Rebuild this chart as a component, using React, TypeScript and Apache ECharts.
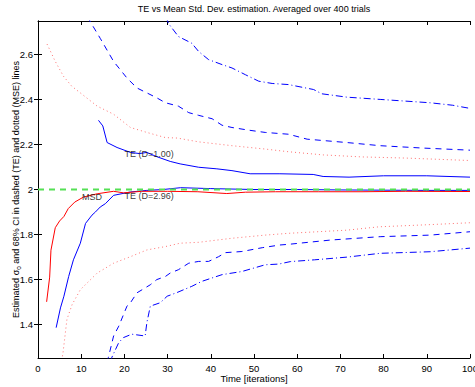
import React, { useEffect, useRef } from "react";
import * as echarts from "echarts";

const titleText = "TE vs Mean Std. Dev. estimation. Averaged over 400 trials";
const xLabel = "Time [iterations]";
const xTicks = [0, 10, 20, 30, 40, 50, 60, 70, 80, 90, 100];
const yTicks = [1.4, 1.6, 1.8, 2, 2.2, 2.4, 2.6];

const trueValue = [[0, 2], [100, 2]];

const msdMean = [[2, 1.5], [2.7, 1.61], [3, 1.73], [4, 1.83], [5, 1.86], [6, 1.88], [7, 1.915], [8.5, 1.944], [10.5, 1.966], [13.7, 1.981], [17.5, 1.992], [19.8, 1.985], [24, 1.992], [30, 1.992], [37, 1.99], [43.7, 1.982], [48, 1.988], [55, 1.99], [65, 1.99], [75, 1.99], [85, 1.992], [100, 1.991]];

const msdUpper = [[2.1, 2.647], [4, 2.57], [5.9, 2.504], [7.8, 2.46], [9.8, 2.43], [13.7, 2.371], [17.5, 2.335], [21.4, 2.276], [25.2, 2.254], [29.5, 2.231], [32.2, 2.229], [37.2, 2.212], [44.9, 2.195], [52.6, 2.18], [58, 2.168], [66, 2.154], [75, 2.145], [85, 2.14], [100, 2.129]];

const msdLower = [[5.5, 1.24], [5.8, 1.275], [6.7, 1.422], [7.9, 1.488], [9.8, 1.554], [13.7, 1.628], [17.5, 1.672], [21.4, 1.701], [25.2, 1.731], [29.5, 1.746], [32.9, 1.761], [37.2, 1.765], [44.9, 1.783], [52.6, 1.797], [58, 1.805], [71.5, 1.819], [79, 1.834], [90, 1.843], [100, 1.852]];

const te1Mean = [[14, 2.308], [15, 2.283], [16, 2.209], [18.3, 2.187], [21.4, 2.165], [23.5, 2.16], [25.2, 2.165], [27.5, 2.146], [30.6, 2.125], [32.9, 2.114], [37.2, 2.099], [41.4, 2.092], [44.9, 2.084], [49.1, 2.07], [56, 2.07], [63.7, 2.067], [66, 2.058], [72, 2.055], [80, 2.061], [90, 2.061], [100, 2.055]];

const te2Mean = [[4.2, 1.385], [5.2, 1.473], [6, 1.525], [7.1, 1.613], [8.2, 1.687], [9.8, 1.761], [11, 1.849], [12.5, 1.886], [13.3, 1.9], [14.4, 1.922], [15.6, 1.937], [17.5, 1.974], [21.4, 1.989], [25.2, 1.996], [29, 2.0], [33, 2.008], [40, 2.004], [50, 2.0], [60, 2.0], [70, 1.998], [80, 1.997], [90, 1.996], [100, 1.996]];

const teDashedUpper = [[11.6, 2.77], [12, 2.75], [14.4, 2.673], [17.5, 2.57], [20.6, 2.496], [22.9, 2.452], [25.2, 2.43], [27.5, 2.408], [29.5, 2.386], [32.5, 2.371], [34.9, 2.342], [37.2, 2.33], [40.3, 2.315], [42.6, 2.286], [44.9, 2.276], [48.8, 2.264], [52.6, 2.254], [58, 2.246], [62.3, 2.224], [71.5, 2.209], [79.2, 2.195], [88.5, 2.185], [100, 2.175]];

const teDashDotUpper = [[29.6, 2.77], [30.2, 2.739], [32.5, 2.681], [35.6, 2.651], [37.2, 2.614], [39.5, 2.578], [42.6, 2.556], [44.9, 2.541], [48, 2.511], [51.1, 2.482], [54.2, 2.472], [58, 2.467], [63.8, 2.445], [65.7, 2.426], [71.5, 2.411], [79.2, 2.401], [84.6, 2.394], [90.8, 2.386], [96, 2.375], [100, 2.361]];

const teDashedLower = [[15.9, 1.23], [16.3, 1.253], [17.5, 1.348], [18.7, 1.392], [20.6, 1.481], [21.4, 1.496], [22.9, 1.54], [26, 1.576], [27.5, 1.599], [29.5, 1.613], [30.6, 1.628], [32.5, 1.643], [34.9, 1.672], [37.2, 1.68], [39.5, 1.68], [41.8, 1.701], [43.4, 1.719], [47.2, 1.724], [51.9, 1.741], [56, 1.753], [58, 1.756], [67.7, 1.775], [79.2, 1.79], [90.8, 1.797], [100, 1.812]];

const teDashDotLower = [[16.7, 1.23], [17.1, 1.253], [18.7, 1.319], [19.8, 1.341], [21.7, 1.356], [24.8, 1.348], [25.2, 1.407], [26, 1.481], [28.3, 1.496], [29.9, 1.525], [32, 1.54], [35.6, 1.569], [37.9, 1.591], [42.6, 1.621], [47.2, 1.635], [52.6, 1.665], [55.7, 1.668], [58.4, 1.679], [64, 1.687], [71.5, 1.699], [79.2, 1.716], [90.8, 1.723], [100, 1.739]];

const annotations = [
  [20, 2.158, "TE (D=1.00)"],
  [10.2, 1.966, "MSD"],
  [20, 1.97, "TE (D=2.96)"],
];

const FONT = "'Liberation Sans', Arial, Helvetica, sans-serif";

export default function App() {
  const ref = useRef<HTMLDivElement>(null);
  useEffect(() => {
    document.body.style.margin = "0";
    const chart = echarts.init(ref.current!, null, { renderer: "svg" });
    const axisLine = { show: true, lineStyle: { color: "#000", width: 1 } };
    const line = (data: number[][], color: string, type: any, width = 1, z = 2) => ({
      type: "line",
      data,
      symbol: "none",
      showSymbol: false,
      clip: true,
      z,
      lineStyle: { color, type, width },
      emphasis: { disabled: true },
    });
    chart.setOption({
      animation: false,
      textStyle: { fontFamily: FONT },
      graphic: [
        {
          type: "text",
          x: 254,
          y: 9,
          style: {
            text: titleText,
            align: "center",
            verticalAlign: "middle",
            fontSize: 9,
            fontFamily: FONT,
            fill: "#000",
          },
        },
      ],
      grid: { left: 38, right: 5, top: 21, bottom: 29, containLabel: false, outerBoundsMode: "none" },
      xAxis: [
        {
          type: "value",
          min: 0,
          max: 100,
          interval: 10,
          position: "bottom",
          axisLine,
          axisTick: { show: true, inside: true, length: 4, lineStyle: { color: "#000" } },
          axisLabel: { show: true, color: "#000", fontSize: 9.5, margin: 5, fontFamily: FONT, customValues: xTicks },
          splitLine: { show: false },
          name: xLabel,
          nameLocation: "middle",
          nameGap: 15,
          nameMoveOverlap: false,
          nameTextStyle: { color: "#000", fontSize: 9.5, fontFamily: FONT },
        },
        {
          type: "value",
          min: 0,
          max: 100,
          interval: 10,
          position: "top",
          axisLine,
          axisTick: { show: true, inside: true, length: 4, lineStyle: { color: "#000" } },
          axisLabel: { show: false },
          splitLine: { show: false },
        },
      ],
      yAxis: [
        {
          type: "value",
          min: 1.25,
          max: 2.75,
          position: "left",
          axisLine,
          axisTick: { show: true, inside: true, length: 4, customValues: yTicks, lineStyle: { color: "#000" } },
          axisLabel: { show: true, color: "#000", fontSize: 9.5, margin: 5, fontFamily: FONT, customValues: yTicks },
          splitLine: { show: false },
          name: "Estimated σ{sub|o} and 68% CI in dashed (TE) and dotted (MSE) lines",
          nameLocation: "middle",
          nameRotate: 90,
          nameGap: 16,
          nameMoveOverlap: false,
          nameTextStyle: {
            color: "#000",
            fontSize: 9,
            fontFamily: FONT,
            rich: {
              sub: { fontSize: 6.5, fontFamily: FONT, color: "#000", padding: [5, 0, 0, 0] },
            },
          },
        },
        {
          type: "value",
          min: 1.25,
          max: 2.75,
          position: "right",
          axisLine,
          axisTick: { show: true, inside: true, length: 4, customValues: yTicks, lineStyle: { color: "#000" } },
          axisLabel: { show: false },
          splitLine: { show: false },
        },
      ],
      series: [
        line(msdUpper, "#ff7070", [1, 3], 1),
        line(msdLower, "#ff7070", [1, 3], 1),
        line(teDashedUpper, "#0000ff", [6, 5], 1),
        line(teDashedLower, "#0000ff", [6, 5], 1),
        line(teDashDotUpper, "#0000ff", [7, 3, 1, 3], 1),
        line(teDashDotLower, "#0000ff", [7, 3, 1, 3], 1),
        line(te1Mean, "#0000ff", "solid", 1),
        line(te2Mean, "#0000ff", "solid", 1),
        line(msdMean, "#ff0000", "solid", 1),
        line(trueValue, "#55e055", [6, 5], 2, 3),
        {
          type: "scatter",
          data: annotations,
          symbolSize: 0,
          z: 5,
          emphasis: { disabled: true },
          label: {
            show: true,
            position: "right",
            distance: 0,
            color: "#000",
            fontSize: 9,
            fontFamily: FONT,
            formatter: (p: any) => p.data[2],
          },
        },
      ],
    });
    return () => chart.dispose();
  }, []);
  return <div ref={ref} style={{ width: 475, height: 387 }} />;
}
